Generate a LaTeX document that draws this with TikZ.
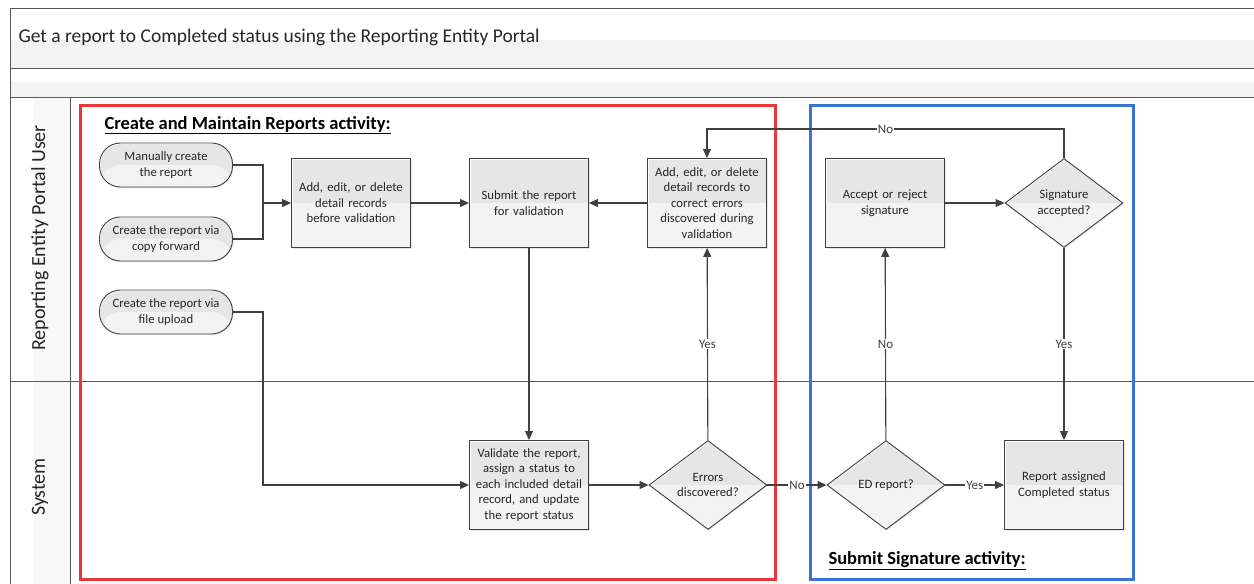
\documentclass[tikz,border=0pt]{standalone}
\usepackage{fontspec}
\setmainfont{Carlito}
\usepackage{tikz}
\usetikzlibrary{shapes,arrows.meta,shadows,positioning}

\definecolor{lanegray}{HTML}{F3F3F3}
\definecolor{linegray}{HTML}{404040}
\definecolor{actred}{HTML}{E8383D}
\definecolor{actblue}{HTML}{3A74D4}

\begin{document}
\begin{tikzpicture}[x=1pt,y=-1pt]
			\tikzstyle{Box}		= [draw=linegray, line width=0.9pt, align=center, inner sep=2pt,
			                       font=\fontsize{12.7}{15.5}\selectfont, text=black!85,
			                       drop shadow={opacity=0.2, shadow xshift=1pt, shadow yshift=-1pt},
			                       path picture={\fill[lanegray] (path picture bounding box.west) rectangle (path picture bounding box.south east);}]
			\tikzstyle{Start}	= [Box, rectangle, rounded corners=21pt, minimum width=133pt, minimum height=44pt]
			\tikzstyle{Task}	= [Box, rectangle, minimum width=119pt, minimum height=89pt, text width=114pt]
			\tikzstyle{Decision}	= [Box, diamond, aspect=1.3, inner sep=0pt, minimum width=118pt, minimum height=89pt]
			\tikzstyle{Line}	= [draw=linegray, line width=1.1pt]
			\tikzstyle{Flow}	= [Line, -{Triangle[length=9pt, width=8pt]}]
			\tikzstyle{Lbl}		= [fill=white, inner sep=1pt, font=\fontsize{13}{15}\selectfont, text=linegray]
			\tikzstyle{Frame}	= [draw=black!65, line width=1pt]
			\tikzstyle{Activity}	= [line width=3pt]
			
			\useasboundingbox (0,0) rectangle (1254,584);
			
			% pool and lanes
			\fill [lanegray] (10,40) rectangle (1254,68);
			\fill [lanegray] (10,82) rectangle (1254,97);
			\fill [lanegray!60] (34,97) rectangle (70,584);
			\draw [Frame] (1254,8) -- (10,8) -- (10,584);
			\draw [Frame] (10,68) -- (1254,68);
			\draw [Frame] (10,97) -- (1254,97);
			\draw [Frame] (10,381) -- (1254,381);
			\draw [Frame] (70,97) -- (70,584);
			
			\node (title) at (15,37) [anchor=west, font=\fontsize{19.5}{23}\selectfont, text=black!85] {Get a report to Completed status using the Reporting Entity Portal};
			\node (user) at (40,238) [rotate=90, font=\fontsize{20}{24}\selectfont, text=black!85] {Reporting Entity Portal User};
			\node (system) at (40,487) [rotate=90, font=\fontsize{20}{24}\selectfont, text=black!85] {System};
			
			% activities
			\draw [Activity, actred] (80,105) rectangle (775,579);
			\draw [Activity, actblue] (810,105) rectangle (1133,579);
			\node (cmr) at (101,125) [anchor=west, font=\fontsize{18.5}{22}\selectfont\bfseries] {\underline{Create and Maintain Reports activity:}};
			\node (ssa) at (825,561) [anchor=west, font=\fontsize{18.5}{22}\selectfont\bfseries] {\underline{Submit Signature activity:}};
			
			% reporting entity portal user
			\node (mc) at (166,165) [Start] {Manually create\\the report};
			\node (cf) at (166,239) [Start] {Create the report via\\copy forward};
			\node (fu) at (166,312) [Start] {Create the report via\\file upload};
			\node (ae) at (351,203) [Task] {Add, edit, or delete\\detail records\\before validation};
			\node (sub) at (529,203) [Task] {Submit the report\\for validation};
			\node (fix) at (707,203) [Task] {Add, edit, or delete\\detail records to\\correct errors\\discovered during\\validation};
			\node (acc) at (885,203) [Task] {Accept or reject\\signature};
			\node (sig) at (1064,203) [Decision] {Signature\\accepted?};
			
			% system
			\node (val) at (529,485) [Task] {Validate the report,\\assign a status to\\each included detail\\record, and update\\the report status};
			\node (err) at (708,485) [Decision] {Errors\\discovered?};
			\node (ed) at (886,485) [Decision] {ED report?};
			\node (done) at (1064,485) [Task] {Report assigned\\Completed status};
			
			\coordinate (jn) at (263,203);
			\coordinate (ju) at (263,312);
			\coordinate (jno) at (1064,129);
			
			\draw [Line] (mc.east) -| (jn);
			\draw [Line] (cf.east) -| (jn);
			\draw [Flow] (jn) -- (ae);
			\draw [Flow] (fu.east) -- (ju) |- (val.west);
			\draw [Flow] (ae) -- (sub);
			\draw [Flow] (fix) -- (sub);
			\draw [Flow] (sub) -- (val);
			\draw [Flow] (val) -- (err);
			\draw [Flow] (err) -- node [Lbl] {Yes} (fix);
			\draw [Flow] (err) -- node [Lbl] {No} (ed);
			\draw [Flow] (ed) -- node [Lbl] {No} (acc);
			\draw [Flow] (ed) -- node [Lbl] {Yes} (done);
			\draw [Flow] (acc) -- (sig);
			\draw [Flow] (sig) -- node [Lbl] {Yes} (done);
			\draw [Flow] (sig.north) -- (jno) -| node [Lbl, pos=0.25] {No} (fix.north);
		\end{tikzpicture}
\end{document}
